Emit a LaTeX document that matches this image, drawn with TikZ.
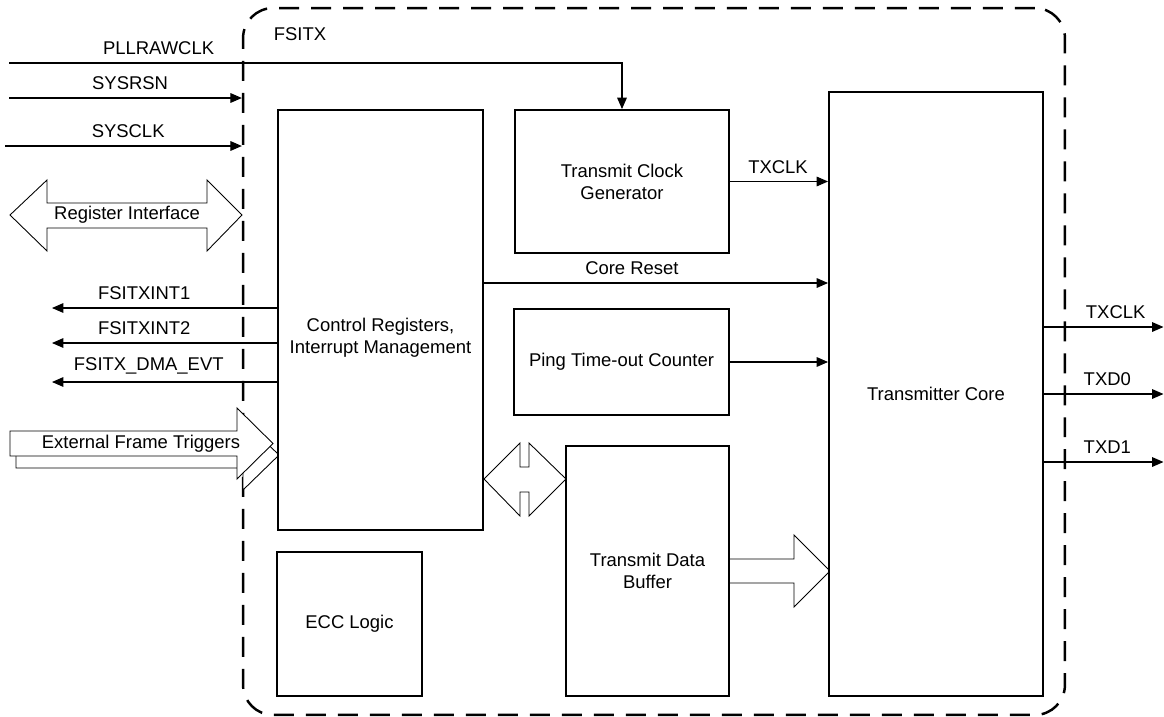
\documentclass[tikz,border=0pt]{standalone}
\usepackage{fontspec}
\setmainfont{Liberation Sans}
\usetikzlibrary{arrows.meta}

\begin{document}
\begin{tikzpicture}[
    x=0.02cm, y=-0.02cm,
    blk/.style={draw, fill=white, line width=1.1pt, align=center, inner sep=0pt},
    sig/.style={-{Triangle[length=6.5pt, width=5.5pt]}, line width=0.6pt},
    lbl/.style={above, yshift=1pt},
    bus/.style={draw, fill=white, line width=0.5pt},
    font=\fontsize{10.5}{12.5}\selectfont
]
\useasboundingbox (0,0) rectangle (1164,717);

% FSITX boundary
\node[draw, dash pattern=on 0.4cm off 0.24cm, line width=1.4pt, rounded corners=0.6cm,
      minimum width=16.44cm, minimum height=14.14cm] (fsitx) at (654,361.5) {};
\node (title) at (300,34) {FSITX};

% Wide buses
\draw[bus] (10,215) -- (47,180) -- (47,203) -- (207,203) -- (207,180) -- (242,215)
    -- (207,251) -- (207,228) -- (47,228) -- (47,251) -- cycle;
\node (regif) at (127,215) {Register Interface};

\draw[bus] (16,443) -- (243,443) -- (243,420) -- (279,455) -- (243,490) -- (243,468)
    -- (16,468) -- cycle;
\draw[bus] (10,431) -- (237,431) -- (237,408) -- (273,443.5) -- (237,479) -- (237,456)
    -- (10,456) -- cycle;
\node (trig) at (141,443.5) {External Frame Triggers};

\draw[bus] (484,479) -- (520,443) -- (520,467) -- (529,467) -- (529,443) -- (566,479)
    -- (529,516) -- (529,492) -- (520,492) -- (520,516) -- cycle;

\draw[bus] (729,559) -- (794,559) -- (794,535) -- (830,571) -- (794,607) -- (794,583)
    -- (729,583) -- cycle;

% Blocks
\node[blk, minimum width=4.1cm, minimum height=8.4cm] (ctrl) at (380.5,320) {};
\node[align=center] (ctrltxt) at (380.5,338) {Control Registers,\\Interrupt Management};
\node[blk, minimum width=4.28cm, minimum height=2.86cm] (clk) at (622,181.5)
    {Transmit Clock\\Generator};
\node[blk, minimum width=4.3cm, minimum height=2.12cm] (ping) at (621.5,362)
    {Ping Time-out Counter};
\node[blk, minimum width=3.26cm, minimum height=5cm] (buf) at (647.5,571)
    {Transmit Data\\Buffer};
\node[blk, minimum width=2.9cm, minimum height=2.88cm] (ecc) at (349.5,624) {ECC Logic};
\node[blk, minimum width=4.28cm, minimum height=12.08cm] (core) at (936,394)
    {Transmitter Core};

% Inputs
\coordinate (pllin) at (9,63);
\coordinate (rstin) at (9,98);
\coordinate (sclkin) at (5,146);
\draw[sig] (pllin) -| node[lbl, pos=0.122]{PLLRAWCLK} (clk.north);
\draw[sig] (rstin) -- node[lbl, pos=0.52]{SYSRSN} (rstin -| fsitx.west);
\draw[sig] (sclkin) -- node[lbl, pos=0.52]{SYSCLK} (sclkin -| fsitx.west);

% Interrupt / DMA outputs
\coordinate (int1) at (52,308);
\coordinate (int2) at (52,343);
\coordinate (dmaevt) at (52,382);
\draw[sig] (int1 -| ctrl.west) -- node[lbl, pos=0.59]{FSITXINT1} (int1);
\draw[sig] (int2 -| ctrl.west) -- node[lbl, pos=0.59]{FSITXINT2} (int2);
\draw[sig] (dmaevt -| ctrl.west) -- node[lbl, pos=0.57]{FSITX\_DMA\_EVT} (dmaevt);

% Internal signals
\draw[sig] (clk.east) -- node[lbl, pos=0.49]{TXCLK} (clk.east -| core.west);
\draw[sig] ([yshift=0.74cm]ctrl.east) coordinate (rst)
    -- node[lbl, pos=0.43]{Core Reset} (rst -| core.west);
\draw[sig] (ping.east) -- (ping.east -| core.west);

% Serial outputs
\coordinate (oclk) at (1163.5,327);
\coordinate (od0) at (1163.5,394);
\coordinate (od1) at (1163.5,462);
\draw[sig] (oclk -| core.east) -- node[lbl, pos=0.6]{TXCLK} (oclk);
\draw[sig] (od0 -| core.east) -- node[lbl, pos=0.53]{TXD0} (od0);
\draw[sig] (od1 -| core.east) -- node[lbl, pos=0.53]{TXD1} (od1);

\end{tikzpicture}
\end{document}
